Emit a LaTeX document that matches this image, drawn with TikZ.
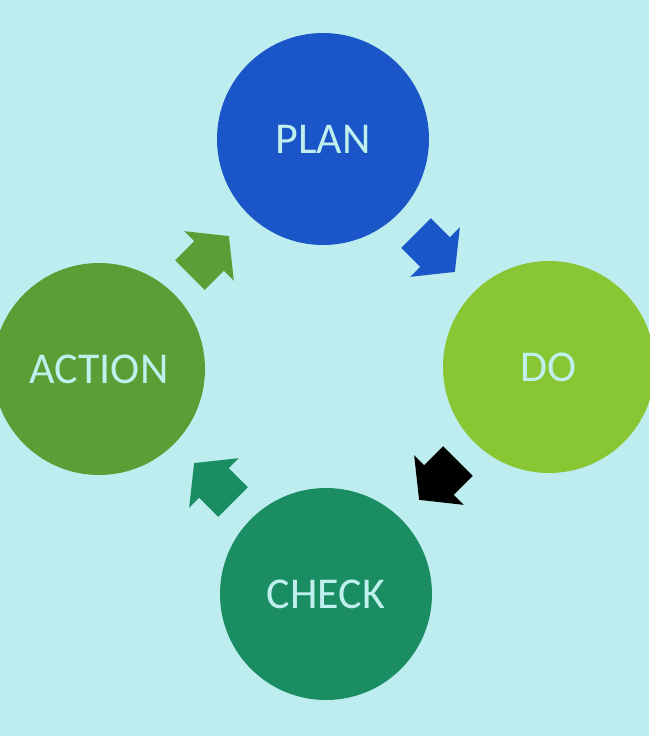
\documentclass[tikz,border=0pt]{standalone}
\usepackage{fontspec}
\setmainfont{Carlito}
\definecolor{bgc}{HTML}{BEEDEF}
\definecolor{planc}{HTML}{1A56C7}
\definecolor{doc}{HTML}{88C634}
\definecolor{actc}{HTML}{5A9F35}
\definecolor{chkc}{HTML}{1A8D63}
\definecolor{txtc}{HTML}{C0F0EE}
\tikzset{
  phase/.style={circle, minimum size=212pt, inner sep=0pt, text=txtc,
    font=\fontsize{44}{44}\selectfont},
  blockarrow/.pic={\fill[pic actions] (0,21) -- (27,21) -- (27,35) -- (55,0) -- (27,-35) -- (27,-21) -- (0,-21) -- cycle;}
}
\begin{document}
\begin{tikzpicture}[x=1pt,y=-1pt]
\fill[bgc] (0,0) rectangle (649,736);
\useasboundingbox (0,0) rectangle (649,736);
\node[phase, fill=planc] (plan) at (323,139) {PLAN};
\node[phase, fill=doc] (do) at (549,367) {DO};
\node[phase, fill=actc] (action) at (99,369) {ACTION};
\node[phase, fill=chkc] (check) at (326,594) {CHECK};
\pic[fill=planc, rotate=-45] (a1) at (416,233) {blockarrow};
\pic[fill=black, rotate=-135] (a2) at (458,461) {blockarrow};
\pic[fill=chkc, rotate=135] (a3) at (233,502) {blockarrow};
\pic[fill=actc, rotate=45] (a4) at (190,275) {blockarrow};
\end{tikzpicture}
\end{document}
